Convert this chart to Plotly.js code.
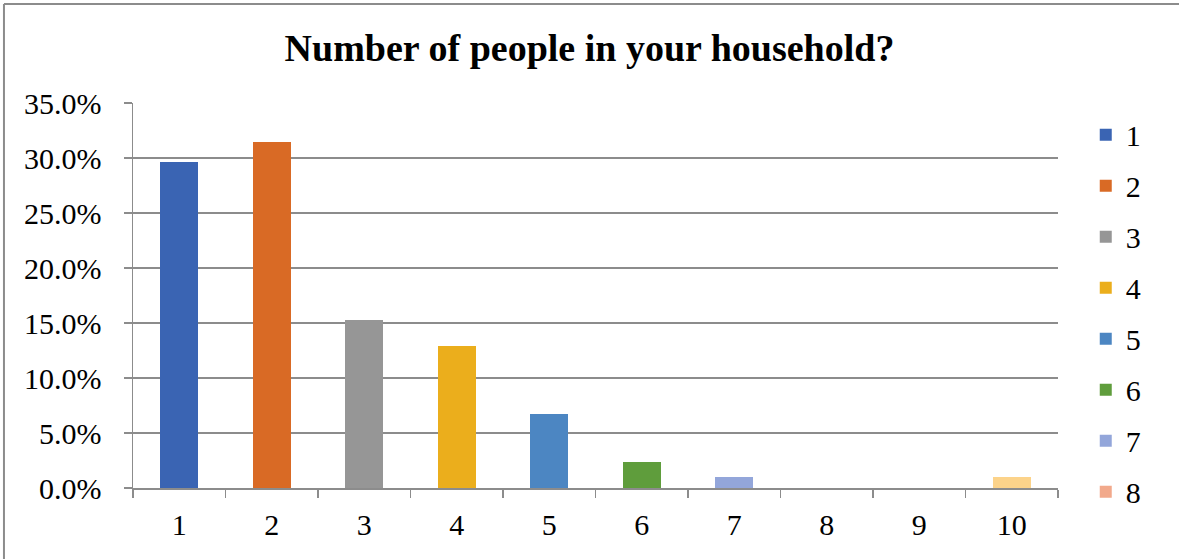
<!DOCTYPE html>
<html>
<head>
<meta charset="utf-8">
<script src="https://cdn.plot.ly/plotly-3.0.1.min.js"></script>
<style>
  html, body { margin: 0; padding: 0; background: #fff; }
  #chart { width: 1179px; height: 559px; }
</style>
</head>
<body>
<div id="chart"></div>
<script>
const categories = ['1', '2', '3', '4', '5', '6', '7', '8', '9', '10'];
const shares = [0.296, 0.315, 0.153, 0.129, 0.067, 0.024, 0.010, 0, 0, 0.010];
const barColors = ['#3A64B3', '#D96A25', '#969696', '#EBAE1C', '#4C86C2', '#5F9D3C', '#93A6DA', '#F2A98B', '#A8A8A8', '#FCD38A'];
const legendShown = [true, true, true, true, true, true, true, true, false, false];
const titleText = 'Number of people in your household?';

const serif = '"Liberation Serif", "Times New Roman", serif';

const traces = categories.map((c, i) => ({
  type: 'bar',
  name: c,
  x: [c],
  y: [shares[i]],
  marker: { color: barColors[i], line: { width: 0 } },
  legendgroup: 'g' + i,
  showlegend: legendShown[i],
  hoverinfo: 'x+y'
}));

// plot area: x 133..1058 (925px), y 103..488 (385px)
const layout = {
  width: 1179,
  height: 559,
  margin: { l: 133, r: 121, t: 103, b: 71, pad: 0 },
  paper_bgcolor: '#ffffff',
  plot_bgcolor: '#ffffff',
  barmode: 'stack',
  bargap: 0.59,
  title: {
    text: '<b>' + titleText + '</b>',
    font: { family: serif, size: 38, color: '#000000' },
    x: 0.5, xanchor: 'center',
    y: 0.915, yanchor: 'middle'
  },
  xaxis: {
    type: 'category',
    categoryorder: 'array',
    categoryarray: categories,
    showgrid: false,
    showline: true,
    linecolor: '#8c8c8c',
    linewidth: 1.5,
    ticks: 'outside',
    tickson: 'boundaries',
    ticklen: 8,
    tickwidth: 1.5,
    tickcolor: '#8c8c8c',
    tickfont: { family: serif, size: 30, color: '#000000' },
    ticklabelstandoff: 9,
    zeroline: false
  },
  yaxis: {
    range: [0, 0.35],
    dtick: 0.05,
    tick0: 0,
    tickformat: '.1%',
    showgrid: true,
    gridcolor: '#8c8c8c',
    gridwidth: 1.5,
    showline: true,
    linecolor: '#8c8c8c',
    linewidth: 1.5,
    ticks: 'outside',
    ticklen: 8,
    tickwidth: 1.5,
    tickcolor: '#8c8c8c',
    tickfont: { family: serif, size: 30, color: '#000000' },
    ticklabelstandoff: 16,
    zeroline: false
  },
  showlegend: true,
  legend: {
    x: 1.03, xanchor: 'left',
    y: 0.985, yanchor: 'top',
    font: { family: serif, size: 30, color: '#000000' },
    tracegroupgap: 9,
    maxheight: 520,
    itemclick: false,
    bgcolor: 'rgba(0,0,0,0)'
  },
  shapes: [
    { type: 'line', xref: 'paper', yref: 'paper', x0: -0.1395, x1: -0.1395, y0: -0.2, y1: 1.257,
      line: { color: '#8c8c8c', width: 2 } },
    { type: 'line', xref: 'paper', yref: 'paper', x0: -0.1395, x1: 1.2, y0: 1.257, y1: 1.257,
      line: { color: '#8c8c8c', width: 2 } }
  ]
};

Plotly.newPlot('chart', traces, layout, { displayModeBar: false, staticPlot: true });
</script>
</body>
</html>
